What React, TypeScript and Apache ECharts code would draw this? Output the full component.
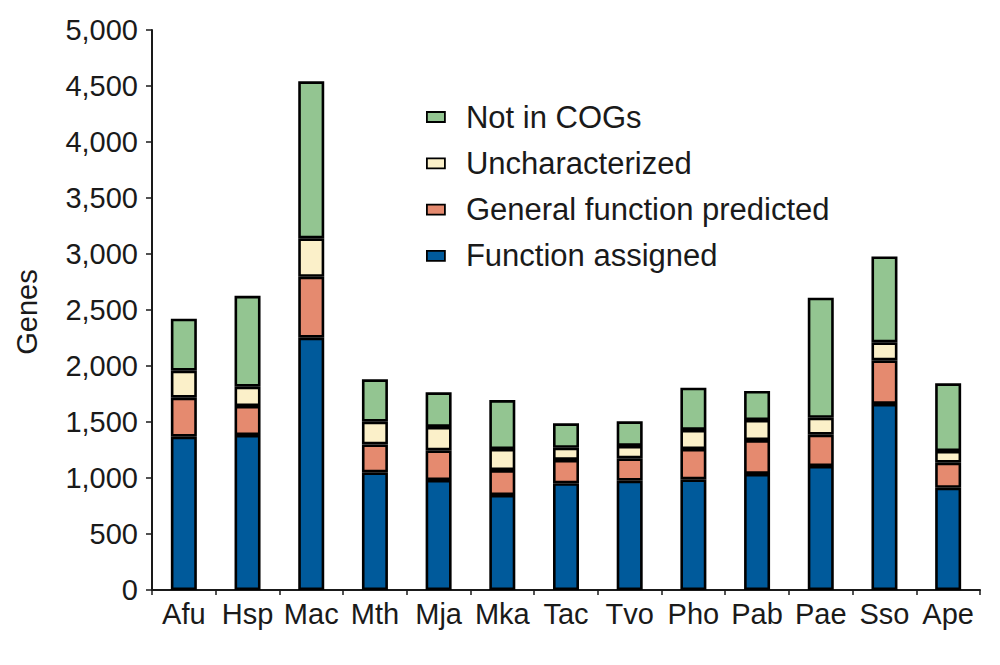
import React, { useEffect, useRef } from "react";
import * as echarts from "echarts";

const categories = ["Afu", "Hsp", "Mac", "Mth", "Mja", "Mka", "Tac", "Tvo", "Pho", "Pab", "Pae", "Sso", "Ape"];
const functionAssigned = [1369, 1384, 2253, 1051, 982, 848, 953, 976, 988, 1036, 1107, 1661, 913];
const generalPredicted = [348, 259, 544, 249, 265, 223, 208, 200, 271, 303, 280, 390, 224];
const uncharacterized = [241, 172, 343, 203, 209, 188, 109, 110, 170, 179, 151, 160, 104];
const notInCOGs = [464, 812, 1402, 378, 309, 437, 218, 220, 377, 259, 1072, 767, 604];
const seriesNames = ["Function assigned", "General function predicted", "Uncharacterized", "Not in COGs"];
const legendOrder = ["Not in COGs", "Uncharacterized", "General function predicted", "Function assigned"];
const yTicks = { min: 0, max: 5000, interval: 500 };

const colors = ["#005a9b", "#e58a6f", "#fbf0c9", "#93c591"];
const FONT = "'Liberation Sans', Arial, Helvetica, sans-serif";

export default function App() {
  const ref = useRef<HTMLDivElement>(null);
  useEffect(() => {
    document.body.style.margin = "0";
    const chart = echarts.init(ref.current!, null, { renderer: "svg" });
    const values = [functionAssigned, generalPredicted, uncharacterized, notInCOGs];
    chart.setOption({
      animation: false,
      textStyle: { fontFamily: FONT },
      grid: { left: 152, right: 20, top: 30, bottom: 75, containLabel: false },
      legend: {
        data: legendOrder,
        orient: "vertical",
        left: 421,
        top: 96,
        itemWidth: 18,
        itemHeight: 10,
        itemGap: 14.3,
        icon: "rect",
        itemStyle: { borderColor: "#000", borderWidth: 1.8 },
        textStyle: { fontSize: 31, lineHeight: 32, color: "#1a1a1a", fontFamily: FONT, padding: [0, 0, 0, 16] },
        selectedMode: false,
      },
      xAxis: {
        type: "category",
        data: categories,
        axisLine: { lineStyle: { color: "#1a1a1a", width: 2 } },
        axisTick: { show: true, length: 5, lineStyle: { color: "#1a1a1a", width: 1.5 } },
        axisLabel: { fontSize: 29, color: "#1a1a1a", margin: 9, interval: 0, fontFamily: FONT },
      },
      yAxis: {
        type: "value",
        min: yTicks.min,
        max: yTicks.max,
        interval: yTicks.interval,
        axisLine: { show: true, lineStyle: { color: "#1a1a1a", width: 2 } },
        axisTick: { show: true, length: 6, lineStyle: { color: "#1a1a1a", width: 1.5 } },
        splitLine: { show: false },
        axisLabel: {
          fontSize: 29,
          color: "#1a1a1a",
          margin: 14,
          fontFamily: FONT,
          formatter: (v: number) => v.toLocaleString("en-US"),
        },
      },
      graphic: [
        {
          type: "text",
          x: 27,
          y: 312,
          rotation: Math.PI / 2,
          style: {
            text: "Genes",
            fontSize: 29,
            fontFamily: FONT,
            fill: "#1a1a1a",
            align: "center",
            verticalAlign: "middle",
          },
        },
      ],
      series: seriesNames.map((name, i) => ({
        name,
        type: "bar",
        stack: "total",
        barWidth: 26,
        data: values[i],
        itemStyle: { color: colors[i], borderColor: "#000", borderWidth: 2.6 },
      })),
    });
    return () => chart.dispose();
  }, []);
  return <div ref={ref} style={{ width: 1000, height: 665 }} />;
}
